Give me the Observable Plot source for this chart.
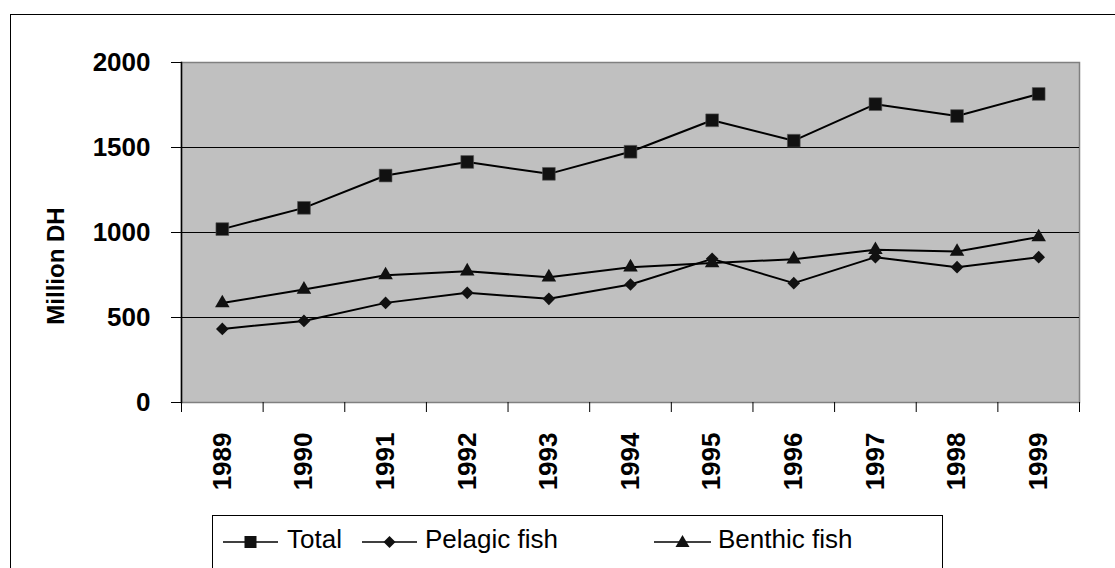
<!DOCTYPE html>
<html>
<head>
<meta charset="utf-8">
<script src="https://cdn.jsdelivr.net/npm/d3@7"></script>
<script src="https://cdn.jsdelivr.net/npm/@observablehq/plot@0.6"></script>
<style>
  html, body { margin: 0; padding: 0; background: #fff; overflow: hidden; }
  body { width: 1115px; height: 568px; position: relative; font-family: "Liberation Sans", Arial, sans-serif; }
  #outer { position: absolute; left: 10px; top: 14px; width: 1200px; height: 700px; border: 1.5px solid #000; box-sizing: border-box; }
  #chart { position: absolute; left: 0; top: 0; }
  #legend { position: absolute; left: 212px; top: 515px; width: 731px; height: 120px; border: 1px solid #000; background: #fff; box-sizing: border-box; }
  .item { position: absolute; top: 0; height: 54px; }
  .item svg { position: absolute; top: 0; left: 0; overflow: visible; }
  .item span { position: absolute; top: 8px; font-size: 26px; color: #000; white-space: nowrap; line-height: 30px; }
</style>
</head>
<body>
<div id="outer"></div>
<div id="chart"></div>
<div id="legend"></div>
<script>
// ---- data ----
const years   = [1989, 1990, 1991, 1992, 1993, 1994, 1995, 1996, 1997, 1998, 1999];
const total   = [1020, 1145, 1335, 1415, 1345, 1475, 1660, 1540, 1755, 1685, 1815];
const pelagic = [433, 480, 586, 645, 610, 694, 845, 702, 855, 796, 855];
const benthic = [585, 665, 749, 772, 737, 796, 820, 843, 898, 888, 973];
const yTicks  = [0, 500, 1000, 1500, 2000];
const gridValues = [500, 1000, 1500];
const seriesNames = ["Total", "Pelagic fish", "Benthic fish"];
const yTitle = "Million DH";

const rows = (vals) => years.map((y, i) => ({year: y, value: vals[i]}));
const T = rows(total), P = rows(pelagic), B = rows(benthic);
const boundaries = years.map(y => y - 0.5).concat([years[years.length - 1] + 0.5]);

const font = "'Liberation Sans', Arial, sans-serif";

const chart = Plot.plot({
  width: 1115,
  height: 510,
  marginLeft: 181,
  marginRight: 36,
  marginTop: 62,
  marginBottom: 108,
  style: {background: "transparent", fontFamily: font, color: "#000", overflow: "visible"},
  x: {domain: [boundaries[0], boundaries[boundaries.length - 1]], axis: null},
  y: {domain: [0, 2000], axis: null},
  marks: [
    Plot.frame({fill: "#c0c0c0", stroke: "#808080", strokeWidth: 1.5}),
    Plot.ruleY(gridValues, {stroke: "#000", strokeWidth: 1}),
    Plot.frame({anchor: "left", stroke: "#000", strokeWidth: 1.5}),
    Plot.axisY({ticks: yTicks, label: null, tickSize: 10, tickPadding: 21, fontSize: 26, fontWeight: "bold", tickFormat: d => String(d)}),
    Plot.axisX({ticks: boundaries, label: null, tickSize: 10, tickFormat: () => ""}),
    Plot.text(years, {x: d => d, y: () => 0, text: d => String(d), dy: 30, rotate: -90, textAnchor: "end", fontSize: 26, fontWeight: "bold", fill: "#000"}),
    Plot.text([yTitle], {x: () => boundaries[0], y: () => 803, dx: -125, rotate: -90, fontSize: 24, fontWeight: "bold", fill: "#000"}),
    Plot.line(T, {x: "year", y: "value", stroke: "#000", strokeWidth: 2}),
    Plot.line(P, {x: "year", y: "value", stroke: "#000", strokeWidth: 2}),
    Plot.line(B, {x: "year", y: "value", stroke: "#000", strokeWidth: 2}),
    Plot.dot(T, {x: "year", y: "value", symbol: "square", r: 7.2, fill: "#111", stroke: "#555", strokeWidth: 0.6}),
    Plot.dot(P, {x: "year", y: "value", symbol: "diamond2", r: 5.7, fill: "#111"}),
    Plot.dot(B, {x: "year", y: "value", symbol: "triangle", r: 5.4, fill: "#111"})
  ]
});
document.getElementById("chart").appendChild(chart);

// ---- legend ----
const legendItems = [
  {name: seriesNames[0], left: 10, lineW: 55, textX: 64, sym: "square"},
  {name: seriesNames[1], left: 149, lineW: 55, textX: 63, sym: "diamond"},
  {name: seriesNames[2], left: 441, lineW: 57, textX: 64, sym: "triangle"}
];
const legend = document.getElementById("legend");
const cy = 26;
for (const it of legendItems) {
  const div = document.createElement("div");
  div.className = "item";
  div.style.left = it.left + "px";
  const mx = it.lineW / 2;
  let shape = "";
  if (it.sym === "square") shape = `<rect x="${mx - 6}" y="${cy - 6}" width="12" height="12" fill="#111"/>`;
  if (it.sym === "diamond") shape = `<path d="M${mx},${cy - 6}L${mx + 6},${cy}L${mx},${cy + 6}L${mx - 6},${cy}Z" fill="#111"/>`;
  if (it.sym === "triangle") shape = `<path d="M${mx},${cy - 7}L${mx + 7},${cy + 5}L${mx - 7},${cy + 5}Z" fill="#111"/>`;
  div.innerHTML = `<svg width="${it.lineW}" height="54"><line x1="0" x2="${it.lineW}" y1="${cy}" y2="${cy}" stroke="#000" stroke-width="1.5"/>${shape}</svg><span style="left:${it.textX}px">${it.name}</span>`;
  legend.appendChild(div);
}
</script>
</body>
</html>
